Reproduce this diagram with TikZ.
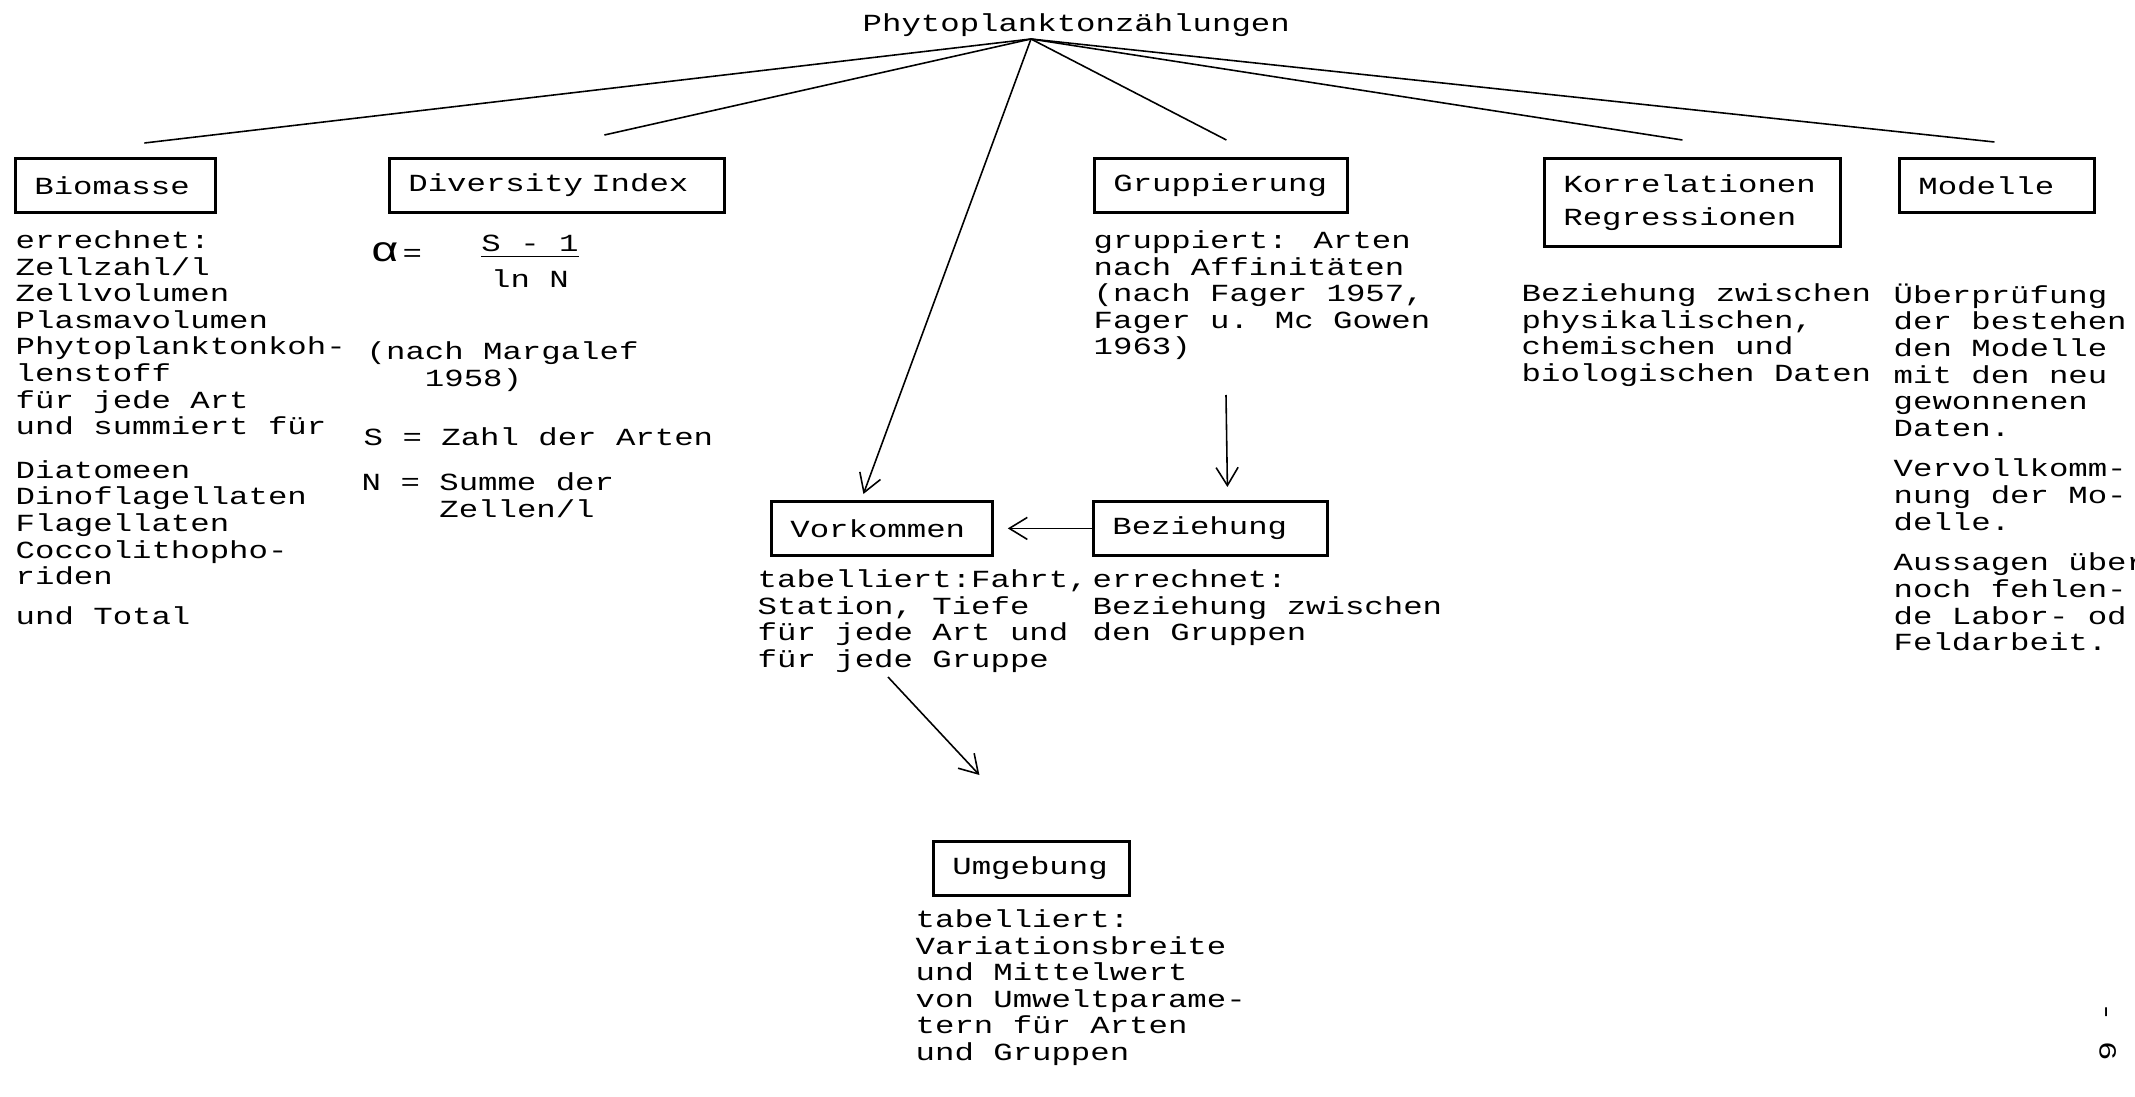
\documentclass[tikz,border=0pt]{standalone}
\usepackage{fontspec}
\usepackage{tikz}
\usetikzlibrary{arrows.meta}
\newfontfamily\schreib[FakeStretch=1.315]{Liberation Mono}
\lineskiplimit=-10pt

\begin{document}
\begin{tikzpicture}[
  >={Straight Barb[length=1.8mm, width=2.2mm]},
  kasten/.style={draw, line width=0.8pt, anchor=north west, align=left, inner xsep=0.19cm, inner ysep=0pt, minimum height=0.54cm, font=\schreib\fontsize{7pt}{7.57pt}\selectfont},
  notiz/.style={anchor=north west, align=left, inner sep=0pt, font=\schreib\fontsize{7pt}{7.57pt}\selectfont, execute at begin node=\strut},
  linie/.style={line width=0.45pt},
  pfeil/.style={line width=0.45pt, ->}
]
\useasboundingbox (0,0) rectangle (21.35,-10.97);
\clip (0,0) rectangle (21.35,-10.97);

% Titel
\node[notiz] (titel) at (8.62,-0.12) {Phytoplanktonzählungen};
\coordinate (spitze) at (10.31,-0.39);

% Erste Ebene
\node[kasten, text width=1.62cm] (bio) at (0.14,-1.57) {Biomasse};
\node[kasten, text width=2.97cm] (div) at (3.88,-1.57) {Diversity Index};
\node[kasten, text width=2.15cm] (grp) at (10.93,-1.57) {Gruppierung};
\node[kasten, text width=2.58cm, minimum height=0.88cm] (kor) at (15.43,-1.57) {Korrelationen\\[1.7pt]Regressionen};
\node[kasten, text width=1.57cm] (mod) at (18.98,-1.57) {Modelle};

\draw[linie] (spitze) -- ([xshift=0.29cm, yshift=0.14cm]bio.north);
\draw[linie] (spitze) -- ([xshift=0.475cm, yshift=0.22cm]div.north);
\draw[linie] (spitze) -- ([xshift=0.055cm, yshift=0.17cm]grp.north);
\draw[linie] (spitze) -- ([xshift=-0.1cm, yshift=0.17cm]kor.north);
\draw[linie] (spitze) -- ([xshift=-0.025cm, yshift=0.15cm]mod.north);

% Biomasse
\node[notiz] (biotext) at (0.15,-2.30) {errechnet:\\Zellzahl/l\\Zellvolumen\\Plasmavolumen\\Phytoplanktonkoh-\\lenstoff\\für jede Art\\und summiert für\\[4.8pt]Diatomeen\\Dinoflagellaten\\Flagellaten\\Coccolithopho-\\riden\\[3.7pt]und Total};

% Diversity Index
\node[anchor=base west, inner sep=0pt, font=\schreib\fontsize{7pt}{7.57pt}\selectfont] (alpha) at (3.70,-2.62) {{\fontsize{10pt}{10pt}\selectfont α}\,=};
\node[notiz, anchor=north, align=center] (bruch) at (5.30,-2.34) {\underline{S - 1}\\[2.7pt]ln N};
\node[notiz] (margalef) at (3.66,-3.41) {(nach Margalef\\\phantom{(na}1958)};
\node[notiz] (sdef) at (3.63,-4.26) {S = Zahl der Arten};
\node[notiz] (ndef) at (3.61,-4.72) {N = Summe der\\\phantom{N = }Zellen/l};

% Gruppierung
\node[notiz] (grtext) at (10.93,-2.30) {gruppiert: Arten\\nach Affinitäten\\(nach Fager 1957,\\Fager u. Mc Gowen\\1963)};
\coordinate (gpf) at (12.26,-3.95);

% Korrelationen und Modelle
\node[notiz] (kortext) at (15.21,-2.83) {Beziehung zwischen\\physikalischen,\\chemischen und\\biologischen Daten};
\node[notiz] (modtext) at (18.93,-2.83) {Überprüfung\\der bestehen\\den Modelle\\mit den neu\\gewonnenen\\Daten.\\[4pt]Vervollkomm-\\nung der Mo-\\delle.\\[4pt]Aussagen über\\noch fehlen-\\de Labor- od\\Feldarbeit.};

% Zweite Ebene
\node[kasten, text width=1.83cm] (vork) at (7.70,-5.00) {Vorkommen};
\node[kasten, text width=1.96cm] (bez) at (10.92,-5.00) {Beziehung};
\draw[pfeil] (spitze) -- ([xshift=-0.185cm, yshift=0.06cm]vork.north);
\draw[pfeil] (gpf) -- ([xshift=0.17cm, yshift=0.13cm]bez.north);
\draw[pfeil, shorten >=0.14cm] (bez.west) -- (vork.east);

\node[notiz] (vorktext) at (7.57,-5.69) {tabelliert:Fahrt,\\Station, Tiefe\\für jede Art und\\für jede Gruppe};
\node[notiz] (beztext) at (10.92,-5.69) {errechnet:\\Beziehung zwischen\\den Gruppen};
\coordinate (vpf) at (8.88,-6.77);

% Umgebung
\node[kasten, text width=1.58cm] (umg) at (9.32,-8.40) {Umgebung};
\draw[pfeil] (vpf) -- ([xshift=-0.52cm, yshift=0.65cm]umg.north);
\node[notiz] (umgtext) at (9.15,-9.09) {tabelliert:\\Variationsbreite\\und Mittelwert\\von Umweltparame-\\tern für Arten\\und Gruppen};

% Seitenzahl
\node[notiz, rotate=-90, anchor=west] (seite) at (21.05,-10.02) {- 6};

\end{tikzpicture}
\end{document}
